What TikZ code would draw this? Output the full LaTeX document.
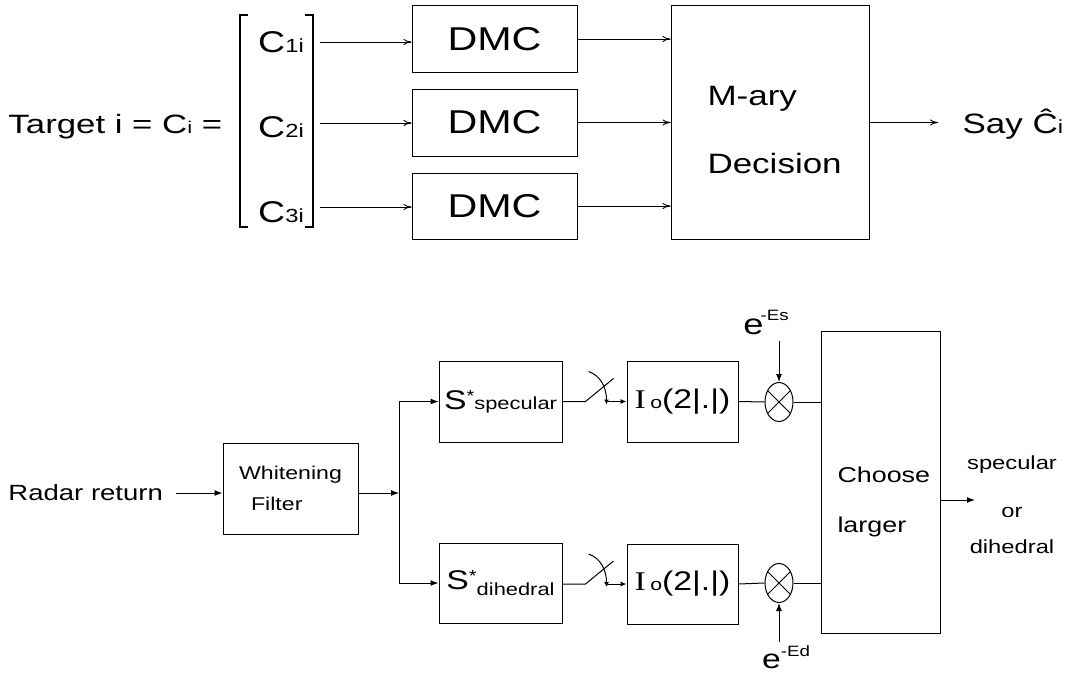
\documentclass[tikz,border=0pt]{standalone}
\usepackage{fontspec}
\setmainfont[FakeStretch=1.25]{Liberation Sans}
\newfontfamily\serifI[FakeStretch=1.25]{Liberation Serif}
\usetikzlibrary{arrows.meta,shapes.geometric}
\newcommand\fsz[1]{\fontsize{#1}{#1}\selectfont}
\newcommand\hs[2]{\scalebox{#1}[1]{#2}}
\begin{document}
\begin{tikzpicture}[x=1pt,y=-1pt,line width=1pt,
  blk/.style={draw,rectangle,inner sep=0pt,line width=1pt},
  txt/.style={inner sep=0pt},
  topar/.style={-{To[length=8pt,width=6pt]},line width=0.9pt},
  botar/.style={-{Latex[length=8pt,width=6pt]},line width=1pt},
  smar/.style={-{Latex[length=6pt,width=5pt]},line width=1pt},
  mult/.style={draw,ellipse,minimum width=28pt,minimum height=39pt,inner sep=0pt,line width=1pt}]
\useasboundingbox (0,0) rectangle (1067,677);

% ---------------- top diagram ----------------
\node[txt,anchor=west,font=\fsz{26.5}] (tgt) at (8,127) {\hs{1.05}{Target i = C{\fsz{17}i} =}};
\draw[line width=1.4pt] (248,15) -- (240,15) -- (240,227) -- (248,227);
\draw[line width=1.4pt] (305,15) -- (313,15) -- (313,227) -- (305,227);
\node[txt,font=\fsz{30}] (c1) at (281,42) {C{\fsz{19}1i}};
\node[txt,font=\fsz{30}] (c2) at (281,127) {C{\fsz{19}2i}};
\node[txt,font=\fsz{30}] (c3) at (281,212) {C{\fsz{19}3i}};
\coordinate (b1) at (320,42);
\coordinate (b2) at (320,123);
\coordinate (b3) at (320,207);

\node[blk,minimum width=165pt,minimum height=66pt,font=\fsz{33}] (d1) at (494.5,39) {DMC};
\node[blk,minimum width=165pt,minimum height=67pt,font=\fsz{33}] (d2) at (494.5,122.5) {DMC};
\node[blk,minimum width=165pt,minimum height=66pt,font=\fsz{33}] (d3) at (494.5,206) {DMC};

\node[blk,minimum width=198pt,minimum height=233pt] (md) at (770,122.5) {};
\node[txt,align=left,font=\fsz{28},anchor=west] (mdt) at (707,130)
  {M-ary\\[40pt]Decision};

\draw[topar] (b1) -- (b1 -| d1.west);
\draw[topar] (b2) -- (b2 -| d2.west);
\draw[topar] (b3) -- (b3 -| d3.west);
\draw[topar] (d1.east) -- (d1.east -| md.west);
\draw[topar] (d2.east) -- (d2.east -| md.west);
\draw[topar] (d3.east) -- (d3.east -| md.west);

\coordinate (sayin) at (938,122.5);
\draw[topar] (md.east |- sayin) -- (sayin);
\node[txt,anchor=west,font=\fsz{28}] (say) at (962,124) {Say \^{C}{\fsz{19}i}};

% ---------------- bottom diagram ----------------
\node[txt,anchor=west,font=\fsz{22}] (radar) at (8,493) {Radar return};
\node[blk,minimum width=135pt,minimum height=91pt,align=left,font=\fsz{18.5}] (wf) at (290.5,488.5)
  {Whitening\\[12pt]\hspace*{12pt}Filter};
\draw[botar] ([xshift=13pt]radar.east) -- (radar.east -| wf.west);
\coordinate (j) at (399,493);
\draw[botar] (wf.east |- j) -- (j);

\node[blk,minimum width=123pt,minimum height=81pt] (ss) at (500.5,401.5)
  {\fsz{27}S\raisebox{8pt}{\fsz{16}*}\fsz{17.5}specular};
\node[blk,minimum width=123pt,minimum height=80pt] (sd) at (500.5,583)
  {\fsz{27}S\raisebox{8pt}{\fsz{16}*}\raisebox{-6pt}{\fsz{17.5}dihedral}};
\draw (j |- ss.west) -- (j |- sd.west);
\draw[botar] (j |- ss.west) -- (ss.west);
\draw[botar] (j |- sd.west) -- (sd.west);

\node[blk,minimum width=111pt,minimum height=81pt,font=\fsz{27}] (ios) at (682.5,401.5)
  {{\serifI I}\,{\fsz{17}o}(2|.|)};
\node[blk,minimum width=111pt,minimum height=80pt,font=\fsz{27}] (iod) at (682.5,584)
  {{\serifI I}\,{\fsz{17}o}(2|.|)};

\node[mult] (ms) at (779,402) {};
\node[mult] (mdh) at (779,583) {};
\draw (ms.45) -- (ms.225) (ms.135) -- (ms.315);
\draw (mdh.45) -- (mdh.225) (mdh.135) -- (mdh.315);

\node[blk,minimum width=119pt,minimum height=302pt] (ch) at (880.5,482) {};
\node[txt,align=left,font=\fsz{21.5},anchor=west] (cht) at (837,502) {Choose\\[29pt]larger};

% switches
\foreach \s/\i/\m in {ss/ios/ms,sd/iod/mdh}{
  \coordinate (p1) at ([xshift=23pt]\s.east |- \i.west);
  \draw (\s.east |- \i.west) -- (p1) -- ++(28,-23);
  \draw[-{Latex[length=5pt,width=5pt]}] ([xshift=3pt,yshift=30pt]p1)
     .. controls ([xshift=15pt,yshift=26pt]p1) and ([xshift=21pt,yshift=14pt]p1) .. ([xshift=21pt,yshift=-3pt]p1);
  \draw[smar] ([xshift=21pt]p1) -- (\i.west);
  \draw (\i.east) -- (\m.west);
  \draw (\m.east) -- (\m.east -| ch.west);
}

\node[txt,font=\fsz{29}] (es) at (766,322) {e\hspace{-3pt}\raisebox{14pt}{\fsz{15}-Es}};
\draw[botar] (ms.north |- 0,341) -- (ms.north);
\node[txt,font=\fsz{27}] (ed) at (786,657) {e\raisebox{12pt}{\fsz{15}-Ed}};
\draw[botar] (mdh.south |- 0,642) -- (mdh.south);

\coordinate (outp) at (975,500);
\draw[botar] (ch.east |- outp) -- (outp);
\node[txt,align=center,font=\fsz{19}] (res) at (1012,505) {specular\\[29pt]or\\[17pt]dihedral};
\end{tikzpicture}
\end{document}
